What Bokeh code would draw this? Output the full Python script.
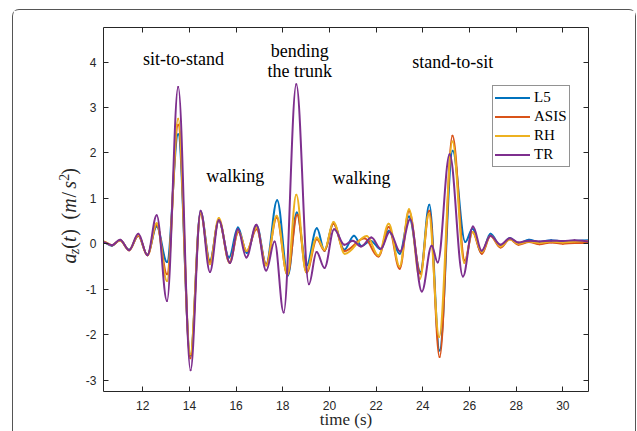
import numpy as np
from bokeh.plotting import figure
from bokeh.layouts import row
from bokeh.models import (ColumnDataSource, Range1d, LinearAxis, FixedTicker, Label,
                          Legend, LegendItem, CustomJSTickFormatter)
from bokeh.embed import file_html
from bokeh.resources import INLINE

# ---------------- data (local extrema) ----------------
x_ticks = [12, 14, 16, 18, 20, 22, 24, 26, 28, 30]
y_ticks = [-3, -2, -1, 0, 1, 2, 3, 4]
y_tick_labels = ["-3", "-2", "-1", "0", "1", "2", "3", "4"]

series_names = ["L5", "ASIS", "RH", "TR"]
series_colors = ["#0072BD", "#D95319", "#EDB120", "#7E2F8E"]

l5_t = [10.30, 10.68, 11.03, 11.42, 11.81, 12.20, 12.60, 13.04, 13.52, 14.04, 14.48, 14.88,
        15.26, 15.70, 16.08, 16.46, 16.88, 17.29, 17.76, 18.22, 18.60, 19.02, 19.46, 19.79,
        20.17, 20.64, 21.05, 21.38, 21.76, 22.20, 22.54, 23.01, 23.41, 23.90, 24.28, 24.72,
        25.28, 25.82, 26.13, 26.52, 26.90, 27.33, 27.73, 28.10, 28.55, 29.00, 29.50, 30.00,
        30.50, 31.20]
l5_v = [0.04, -0.04, 0.08, -0.13, 0.18, -0.24, 0.38, -0.40, 2.41, -2.46, 0.70, -0.37,
        0.52, -0.30, 0.36, -0.20, 0.40, -0.45, 0.96, -0.70, 0.69, -0.48, 0.34, -0.15,
        0.45, -0.13, 0.18, -0.05, 0.07, -0.12, 0.29, -0.22, 0.60, -0.62, 0.86, -2.35,
        2.05, 0.04, 0.33, -0.21, 0.22, -0.05, 0.13, 0.01, 0.09, 0.04, 0.08, 0.05,
        0.07, 0.08]

asis_t = [10.30, 10.68, 11.03, 11.42, 11.81, 12.20, 12.60, 13.04, 13.52, 14.04, 14.48, 14.88,
          15.26, 15.72, 16.10, 16.45, 16.88, 17.29, 17.74, 18.20, 18.62, 19.02, 19.46, 19.79,
          20.17, 20.64, 21.50, 22.10, 22.54, 23.01, 23.41, 23.90, 24.28, 24.72, 25.27, 25.80,
          26.13, 26.53, 26.90, 27.33, 27.73, 28.10, 28.55, 29.00, 29.50, 30.00, 30.50, 31.20]
asis_v = [0.05, -0.03, 0.08, -0.14, 0.18, -0.25, 0.42, -0.67, 2.62, -2.52, 0.66, -0.40,
          0.52, -0.40, 0.26, -0.16, 0.32, -0.45, 0.58, -0.68, 0.64, -0.63, 0.10, -0.15,
          0.44, -0.16, 0.12, -0.28, 0.37, -0.55, 0.72, -0.66, 0.73, -2.49, 2.38, -0.37,
          0.26, -0.22, 0.17, -0.08, 0.10, -0.02, 0.04, -0.01, 0.03, 0.00, 0.02, 0.02]

rh_t = [10.30, 10.68, 11.03, 11.42, 11.81, 12.20, 12.60, 13.04, 13.52, 14.04, 14.48, 14.88,
        15.26, 15.72, 16.10, 16.45, 16.88, 17.29, 17.74, 18.20, 18.58, 19.00, 19.46, 19.79,
        20.17, 20.66, 21.60, 22.10, 22.54, 23.01, 23.41, 23.88, 24.26, 24.70, 25.27, 25.78,
        26.13, 26.53, 26.90, 27.33, 27.73, 28.10, 28.55, 29.00, 29.50, 30.00, 30.50, 31.20]
rh_v = [0.05, -0.03, 0.08, -0.14, 0.20, -0.25, 0.45, -0.82, 2.75, -2.43, 0.68, -0.45,
        0.57, -0.42, 0.28, -0.16, 0.36, -0.48, 0.62, -0.68, 1.08, -0.62, 0.14, -0.13,
        0.48, -0.22, 0.17, -0.26, 0.44, -0.50, 0.76, -0.77, 0.66, -2.05, 2.25, -0.42,
        0.26, -0.18, 0.18, -0.06, 0.10, 0.00, 0.05, 0.02, 0.05, 0.03, 0.05, 0.06]

tr_t = [10.30, 10.68, 11.03, 11.42, 11.81, 12.20, 12.60, 13.04, 13.52, 14.05, 14.48, 14.88,
        15.26, 15.74, 16.08, 16.44, 16.87, 17.29, 17.65, 18.04, 18.58, 19.12, 19.45, 19.79,
        20.20, 20.64, 21.00, 21.35, 21.80, 22.20, 22.58, 23.03, 23.46, 23.96, 24.38, 24.64,
        25.15, 25.72, 26.15, 26.52, 26.90, 27.33, 27.73, 28.10, 28.55, 29.00, 29.50, 30.00,
        30.50, 31.20]
tr_v = [0.04, -0.03, 0.09, -0.14, 0.22, -0.25, 0.63, -1.26, 3.45, -2.78, 0.73, -0.62,
        0.52, -0.42, 0.32, -0.30, 0.42, -0.59, 0.05, -1.51, 3.51, -0.89, -0.18, -0.53,
        0.32, -0.02, 0.07, -0.06, 0.14, -0.11, 0.26, -0.17, 0.54, -1.05, -0.04, -0.41,
        1.97, -0.72, 0.38, -0.15, 0.18, -0.02, 0.12, 0.03, 0.07, 0.05, 0.07, 0.06,
        0.08, 0.05]

activity_labels = ["sit-to-stand", "bending", "the trunk", "walking", "walking", "stand-to-sit"]
activity_t = [13.75, 18.73, 18.73, 15.96, 21.37, 25.28]
activity_v = [4.07, 4.25, 3.81, 1.50, 1.44, 4.01]

x_label = "time (s)"

# ---------------- layout ----------------
HC = 421            # content height inside the rounded panel frame
WL = 69             # width of the strip holding the y-axis label
WM = 553            # width of the main plot
B_LEFT, B_TOP, B_RIGHT, B_BOTTOM = 20, 17, 47, 40
X0, X1 = 10.32, 31.1
Y0, Y1 = -3.25, 4.76
AX = "#262626"

p = figure(width=WM, height=HC, x_range=Range1d(X0, X1), y_range=Range1d(Y0, Y1),
           output_backend="svg", toolbar_location=None,
           min_border_left=B_LEFT, min_border_right=B_RIGHT,
           min_border_top=B_TOP, min_border_bottom=B_BOTTOM)
p.background_fill_color = "white"
p.border_fill_color = "white"
p.outline_line_color = None
p.grid.visible = False


def style_axis(ax, show_labels, standoff):
    ax.axis_line_color = AX
    ax.axis_line_width = 1
    ax.major_tick_line_color = AX
    ax.major_tick_in = 5
    ax.major_tick_out = 0
    ax.minor_tick_line_color = None
    ax.major_label_text_font = "Liberation Sans"
    ax.major_label_text_font_size = "12px"
    ax.major_label_text_color = AX
    ax.major_label_standoff = standoff
    if not show_labels:
        ax.formatter = CustomJSTickFormatter(code="return ''")


xa = p.xaxis[0]
xa.ticker = FixedTicker(ticks=x_ticks)
style_axis(xa, True, 9)
xa.axis_label = x_label
xa.axis_label_text_font = "Liberation Serif"
xa.axis_label_text_font_style = "normal"
xa.axis_label_text_font_size = "17px"
xa.axis_label_text_color = AX
xa.axis_label_standoff = -3

ya = p.yaxis[0]
ya.ticker = FixedTicker(ticks=y_ticks)
ya.major_label_overrides = {t: s for t, s in zip(y_ticks, y_tick_labels)}
style_axis(ya, True, 7)

top_ax = LinearAxis(ticker=FixedTicker(ticks=x_ticks))
style_axis(top_ax, False, 0)
p.add_layout(top_ax, "above")
right_ax = LinearAxis(ticker=FixedTicker(ticks=y_ticks))
style_axis(right_ax, False, 0)
p.add_layout(right_ax, "right")

# ---------------- curves ----------------
K = 0.3642


def bezier_source(t, v):
    t = np.asarray(t, float)
    v = np.asarray(v, float)
    x0, x1 = t[:-1], t[1:]
    y0, y1 = v[:-1], v[1:]
    dx = x1 - x0
    return ColumnDataSource(dict(x0=x0, y0=y0, x1=x1, y1=y1,
                                 cx0=x0 + K * dx, cy0=y0, cx1=x1 - K * dx, cy1=y1))


series = [(l5_t, l5_v), (asis_t, asis_v), (rh_t, rh_v), (tr_t, tr_v)]
items = []
for (t, v), name, col in zip(series, series_names, series_colors):
    r = p.bezier(x0="x0", y0="y0", x1="x1", y1="y1", cx0="cx0", cy0="cy0",
                 cx1="cx1", cy1="cy1", source=bezier_source(t, v),
                 line_color=col, line_width=2, line_cap="round")
    items.append(LegendItem(label=name, renderers=[r]))

legend = Legend(items=items, location=(389, 224))
legend.border_line_color = AX
legend.border_line_width = 1
legend.background_fill_color = "white"
legend.background_fill_alpha = 1
legend.padding = 2
legend.spacing = 0
legend.margin = 0
legend.glyph_width = 35
legend.glyph_height = 19
legend.label_height = 19
legend.label_standoff = 4
legend.label_text_font = "Liberation Serif"
legend.label_text_font_size = "15px"
legend.label_text_color = "black"
p.add_layout(legend)

# ---------------- activity annotations ----------------
for txt, t, v in zip(activity_labels, activity_t, activity_v):
    p.add_layout(Label(x=t, y=v, text=txt, text_align="center", text_baseline="middle",
                       text_font="Liberation Serif", text_font_size="18px",
                       text_color="black"))

# ---------------- y-axis label strip (a_z(t) (m/s^2)) ----------------
q = figure(width=WL, height=HC, x_range=Range1d(0, WL), y_range=Range1d(0, HC),
           output_backend="svg", toolbar_location=None,
           x_axis_location=None, y_axis_location=None, min_border=0)
q.outline_line_color = None
q.grid.visible = False
q.background_fill_color = "white"
q.border_fill_color = "white"

S, SS = 20, 14
ylabel_pieces = [
    ("a", "italic", S, 0.53, 0), ("z", "italic", SS, 0.47, 3),
    ("(", "normal", S, 0.39, 0), ("t", "italic", S, 0.36, 0), (")", "normal", S, 0.39, 0),
    (" ", "normal", S, 0.55, 0),
    ("(", "normal", S, 0.39, 0), ("m", "italic", S, 0.88, 0), ("/", "normal", S, 0.50, 0),
    ("s", "italic", S, 0.47, 0), ("2", "normal", SS, 0.50, -7), (")", "normal", S, 0.39, 0),
]
base_x = 62.5          # baseline of the rotated label inside the strip
cur_y = HC - 273.0
for txt, style, size, adv, shift in ylabel_pieces:
    if txt.strip():
        q.add_layout(Label(x=base_x + shift - 0.33 * size, y=cur_y, text=txt,
                           angle=np.pi / 2, text_align="left", text_baseline="middle",
                           text_font="Liberation Serif", text_font_style=style,
                           text_font_size=f"{size}px", text_color=AX))
    cur_y += adv * size

layout = row(q, p, margin=(9, 0, 0, 12),
             styles={"border-top": "1px solid #555555", "border-left": "1px solid #555555",
                     "border-right": "1px solid #555555",
                     "border-radius": "7px 7px 0 0"})

open("out.html", "w").write(file_html(layout, INLINE))
